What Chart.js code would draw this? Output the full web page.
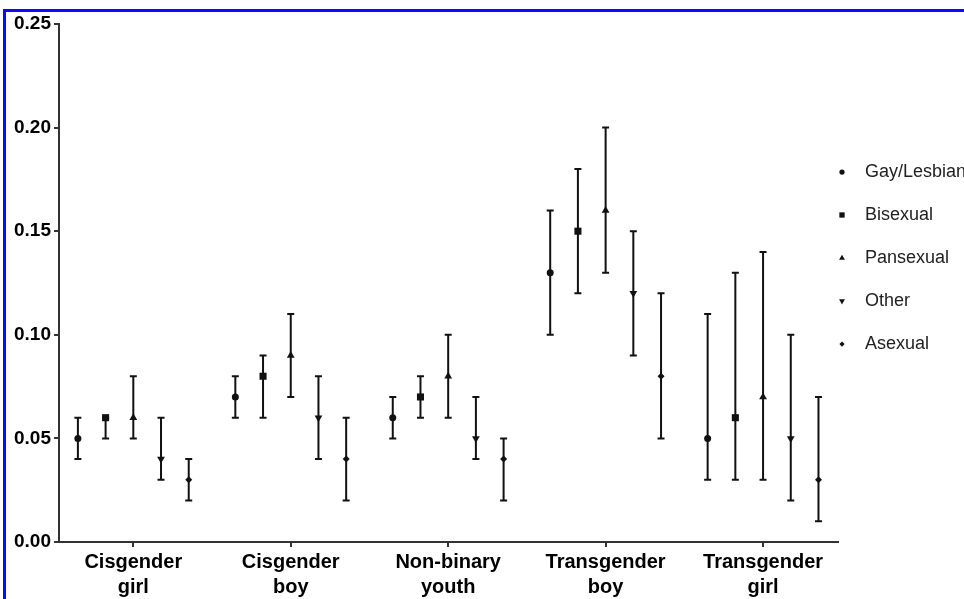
<!DOCTYPE html>
<html>
<head>
<meta charset="utf-8">
<script src="https://cdn.jsdelivr.net/npm/chart.js@4.4.1/dist/chart.umd.min.js"></script>
<style>
    html, body { margin: 0; padding: 0; background: #fff; }
    #wrap { position: relative; width: 964px; height: 599px; overflow: hidden; }
    #frame { position: absolute; left: 3px; top: 9px; width: 980px; height: 620px;
             border-left: 3px solid #0a0aff; border-top: 3px solid #0a0aff; pointer-events: none; }
</style>
</head>
<body>
<div id="wrap">
    <canvas id="chart" width="964" height="599"></canvas>
    <div id="frame"></div>
</div>
<script>
const categories = [
    ['Cisgender', 'girl'],
    ['Cisgender', 'boy'],
    ['Non-binary', 'youth'],
    ['Transgender', 'boy'],
    ['Transgender', 'girl']
];
const seriesNames = ['Gay/Lesbian', 'Bisexual', 'Pansexual', 'Other', 'Asexual'];
const yTicks = [0, 0.05, 0.10, 0.15, 0.20, 0.25];

// estimate + lower / upper bounds per group
const gayMean   = [0.05, 0.07, 0.06, 0.13, 0.05];
const gayLow    = [0.04, 0.06, 0.05, 0.10, 0.03];
const gayHigh   = [0.06, 0.08, 0.07, 0.16, 0.11];

const biMean    = [0.06, 0.08, 0.07, 0.15, 0.06];
const biLow     = [0.05, 0.06, 0.06, 0.12, 0.03];
const biHigh    = [0.06, 0.09, 0.08, 0.18, 0.13];

const panMean   = [0.06, 0.09, 0.08, 0.16, 0.07];
const panLow    = [0.05, 0.07, 0.06, 0.13, 0.03];
const panHigh   = [0.08, 0.11, 0.10, 0.20, 0.14];

const otherMean = [0.04, 0.06, 0.05, 0.12, 0.05];
const otherLow  = [0.03, 0.04, 0.04, 0.09, 0.02];
const otherHigh = [0.06, 0.08, 0.07, 0.15, 0.10];

const aseMean   = [0.03, 0.04, 0.04, 0.08, 0.03];
const aseLow    = [0.02, 0.02, 0.02, 0.05, 0.01];
const aseHigh   = [0.04, 0.06, 0.05, 0.12, 0.07];

const means = [gayMean, biMean, panMean, otherMean, aseMean];
const lows  = [gayLow, biLow, panLow, otherLow, aseLow];
const highs = [gayHigh, biHigh, panHigh, otherHigh, aseHigh];

const markers = [
    { pointStyle: 'circle',   radius: 3.5, rotation: 0 },
    { pointStyle: 'rect',     radius: 5,   rotation: 0 },
    { pointStyle: 'triangle', radius: 4.5, rotation: 0 },
    { pointStyle: 'triangle', radius: 4.5, rotation: 180 },
    { pointStyle: 'rectRot',  radius: 3.5, rotation: 0 }
];

const GROUP_STEP = 0.176;
const INK = '#111';
const AXIS = '#333';
const FONT = "'Liberation Sans', Arial, sans-serif";

const datasets = seriesNames.map((name, s) => ({
    label: name,
    data: means[s].map((v, i) => ({ x: i + (s - 2) * GROUP_STEP, y: v })),
    lows: lows[s],
    highs: highs[s],
    pointStyle: markers[s].pointStyle,
    pointRadius: markers[s].radius,
    rotation: markers[s].rotation,
    backgroundColor: INK,
    borderColor: INK,
    borderWidth: 0,
    showLine: false
}));

// whiskers with caps, drawn under the markers
const errorBars = {
    id: 'errorBars',
    beforeDatasetsDraw(chart) {
        const ctx = chart.ctx;
        const xs = chart.scales.x, ys = chart.scales.y;
        ctx.save();
        ctx.strokeStyle = INK;
        ctx.lineWidth = 2;
        chart.data.datasets.forEach(ds => {
            ds.data.forEach((p, i) => {
                const px = xs.getPixelForValue(p.x);
                const top = ys.getPixelForValue(ds.highs[i]);
                const bot = ys.getPixelForValue(ds.lows[i]);
                ctx.beginPath();
                ctx.moveTo(px, top); ctx.lineTo(px, bot);
                ctx.moveTo(px - 3.5, top); ctx.lineTo(px + 3.5, top);
                ctx.moveTo(px - 3.5, bot); ctx.lineTo(px + 3.5, bot);
                ctx.stroke();
            });
        });
        ctx.restore();
    }
};

const sideLegend = {
    id: 'sideLegend',
    afterDraw(chart) {
        const ctx = chart.ctx;
        ctx.save();
        ctx.font = '18px ' + FONT;
        ctx.textBaseline = 'middle';
        chart.data.datasets.forEach((ds, s) => {
            const y = 172 + s * 43;
            ctx.fillStyle = INK;
            Chart.helpers.drawPoint(ctx, {
                pointStyle: ds.pointStyle,
                radius: ds.pointRadius * 0.75,
                rotation: ds.rotation,
                borderWidth: 0
            }, 842, y);
            ctx.fillStyle = '#222';
            ctx.fillText(ds.label, 865, y);
        });
        ctx.restore();
    }
};

new Chart(document.getElementById('chart'), {
    type: 'scatter',
    data: { datasets: datasets },
    plugins: [errorBars, sideLegend],
    options: {
        responsive: false,
        animation: false,
        layout: { padding: { top: 24, right: 126, left: 0, bottom: 0 } },
        plugins: {
            legend: { display: false },
            tooltip: { enabled: false }
        },
        scales: {
            x: {
                type: 'linear',
                min: -0.472,
                max: 4.476,
                afterBuildTicks: scale => { scale.ticks = categories.map((c, i) => ({ value: i })); },
                afterFit: scale => { scale.height = 57; },
                border: { color: AXIS, width: 2 },
                grid: { drawOnChartArea: false, drawTicks: true, tickLength: 5, color: AXIS, lineWidth: 2 },
                ticks: {
                    padding: 3,
                    autoSkip: false,
                    maxRotation: 0,
                    color: '#000',
                    font: { family: FONT, size: 20, weight: 'bold', lineHeight: 1.25 },
                    callback: value => categories[value]
                }
            },
            y: {
                min: 0,
                max: 0.25,
                afterBuildTicks: scale => { scale.ticks = yTicks.map(v => ({ value: v })); },
                afterFit: scale => { scale.width = 59; },
                border: { color: AXIS, width: 2 },
                grid: { drawOnChartArea: false, drawTicks: true, tickLength: 5, color: AXIS, lineWidth: 2 },
                ticks: {
                    padding: 3,
                    color: '#000',
                    font: { family: FONT, size: 19, weight: 'bold' },
                    callback: value => value.toFixed(2)
                }
            }
        }
    }
});
</script>
</body>
</html>
